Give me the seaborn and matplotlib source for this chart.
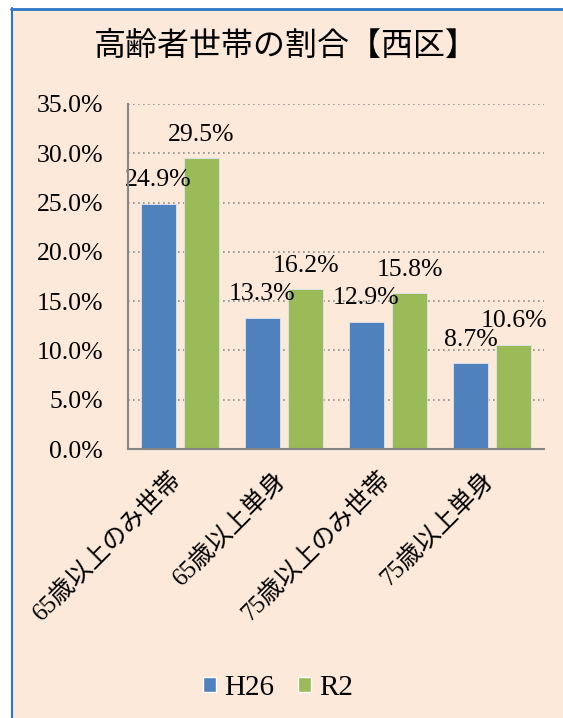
import pandas as pd
import matplotlib.pyplot as plt
import matplotlib.transforms as mtransforms
import seaborn as sns
from matplotlib.patches import Patch, Rectangle
from matplotlib.ticker import FuncFormatter, MultipleLocator

categories = ['65歳以上のみ世帯', '65歳以上単身', '75歳以上のみ世帯', '75歳以上単身']
series = ['H26', 'R2']
h26_values = [24.9, 13.3, 12.9, 8.7]
r2_values = [29.5, 16.2, 15.8, 10.6]

BG = '#FDE9D9'
BLUE = '#4F81BD'
GREEN = '#9BBB59'

df = pd.DataFrame({
    'category': categories * 2,
    'year': [series[0]] * len(categories) + [series[1]] * len(categories),
    'value': h26_values + r2_values,
})

sns.set_style('white')
plt.rcParams['font.family'] = ['Liberation Serif', 'Noto Sans CJK JP']
plt.rcParams['text.color'] = 'black'
plt.rcParams['xtick.color'] = 'black'
plt.rcParams['ytick.color'] = 'black'

fig = plt.figure(figsize=(5.63, 7.18), dpi=100, facecolor='white')

# peach panel with blue border on left and top
fig.add_artist(Rectangle((11 / 563, 0), 1, 1 - 8 / 718, transform=fig.transFigure,
                         facecolor=BG, edgecolor='none', zorder=-10))
fig.add_artist(plt.Line2D([11.5 / 563, 11.5 / 563], [0, 1 - 8 / 718], color='#2E75C8', lw=1.5,
                          transform=fig.transFigure, zorder=-5))
fig.add_artist(plt.Line2D([11 / 563, 1], [1 - 8.5 / 718, 1 - 8.5 / 718], color='#2E75C8', lw=2,
                          transform=fig.transFigure, zorder=-5))

ax = fig.add_axes([128 / 563, 1 - 449 / 718, (544 - 128) / 563, (449 - 104) / 718])
ax.set_facecolor(BG)

sns.barplot(data=df, x='category', y='value', hue='year', palette=[BLUE, GREEN],
            width=0.83, gap=0.2, ax=ax, legend=False, saturation=1,
            edgecolor='#DCE6F2', linewidth=0.6)

for cont in ax.containers:
    ax.bar_label(cont, labels=[f'{v:.1f}%' for v in cont.datavalues], padding=9,
                 fontsize=18.5, color='black')

ax.set_ylim(0, 35)
ax.yaxis.set_major_locator(MultipleLocator(5))
ax.yaxis.set_major_formatter(FuncFormatter(lambda v, p: f'{v:.1f}%'))
ax.grid(axis='y', linestyle=(0, (1, 2)), color='#8C8C8C', linewidth=1.2)
ax.set_axisbelow(True)
ax.set_xlabel('')
ax.set_ylabel('')
ax.tick_params(axis='y', length=0, pad=18, labelsize=18.5)
ax.tick_params(axis='x', length=0, pad=13, labelsize=18)
shift = mtransforms.ScaledTranslation(-10 / 100, 0, fig.dpi_scale_trans)
for lbl in ax.get_xticklabels():
    lbl.set_rotation(45)
    lbl.set_ha('right')
    lbl.set_rotation_mode('anchor')
    lbl.set_transform(lbl.get_transform() + shift)

for s in ['top', 'right']:
    ax.spines[s].set_visible(False)
for s in ['left', 'bottom']:
    ax.spines[s].set_color('#868686')
    ax.spines[s].set_linewidth(1.5)
    ax.spines[s].set_zorder(5)

fig.text(286 / 563, 1 - 47 / 718, '高齢者世帯の割合【西区】', ha='center', va='center', fontsize=23)

handles = [Patch(facecolor=BLUE, label='H26'), Patch(facecolor=GREEN, label='R2')]
fig.legend(handles=handles, loc='center', bbox_to_anchor=(278 / 563, 1 - 688 / 718), ncol=2,
           frameon=False, fontsize=21, handlelength=0.45, handleheight=0.45,
           handletextpad=0.3, columnspacing=0.8)

fig.savefig('out.png', dpi=100, facecolor='white')
